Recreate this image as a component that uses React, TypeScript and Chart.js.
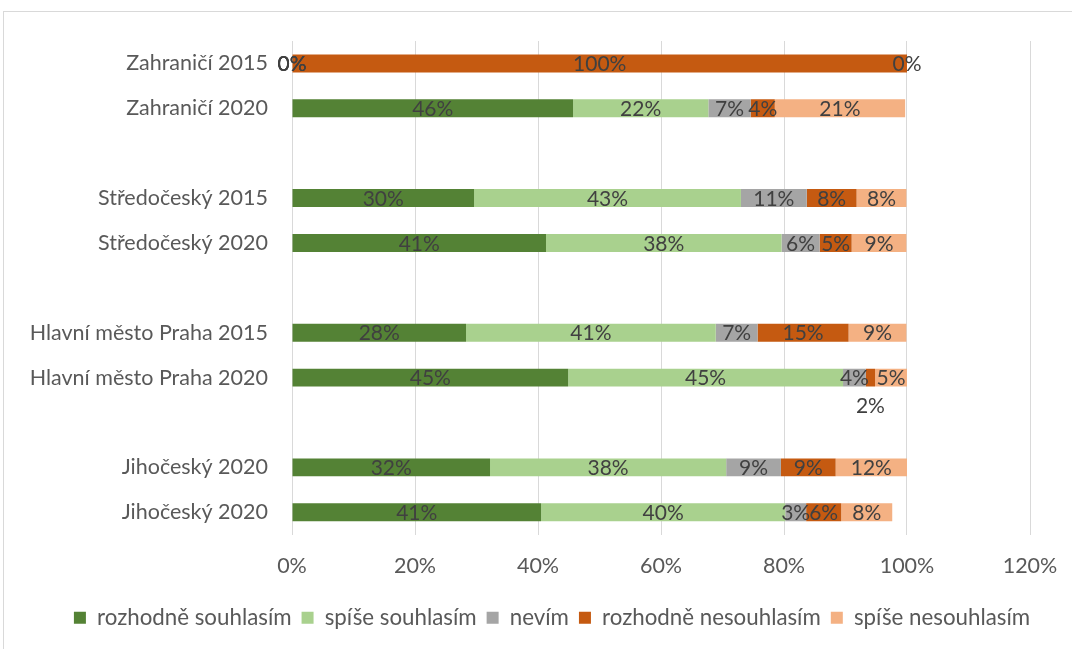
import React, { useEffect, useRef } from 'react';
import { Chart, registerables } from 'chart.js';

Chart.register(...registerables);

const categories = [
  'Zahraničí 2015',
  'Zahraničí 2020',
  '',
  'Středočeský 2015',
  'Středočeský 2020',
  '',
  'Hlavní město Praha 2015',
  'Hlavní město Praha 2020',
  '',
  'Jihočeský 2020',
  'Jihočeský 2020',
];

const seriesNames = [
  'rozhodně souhlasím',
  'spíše souhlasím',
  'nevím',
  'rozhodně nesouhlasím',
  'spíše nesouhlasím',
];

const rozhodneSouhlasim = [0, 0.457, null, 0.296, 0.413, null, 0.283, 0.449, null, 0.322, 0.405];
const spiseSouhlasim = [0, 0.22, null, 0.434, 0.383, null, 0.406, 0.447, null, 0.384, 0.397];
const nevim = [0, 0.069, null, 0.107, 0.062, null, 0.068, 0.037, null, 0.089, 0.034];
const rozhodneNesouhlasim = [1, 0.039, null, 0.081, 0.052, null, 0.148, 0.015, null, 0.089, 0.057];
const spiseNesouhlasim = [0, 0.212, null, 0.081, 0.089, null, 0.094, 0.052, null, 0.116, 0.083];

const seriesColors = ['#548235', '#A9D18E', '#A5A5A5', '#C55A11', '#F4B183'];

const xMin = 0;
const xMax = 1.2;
const xStep = 0.2;

const FONT = 'Lato, "Noto Sans", sans-serif';
const AXIS_FONT = 21.5;
const LABEL_FONT = 21;
const LEGEND_FONT = 22.3;

const valueLabelPlugin = {
  id: 'valueLabels',
  afterLayout(chart: any) {
    const lg = chart.legend;
    if (lg) {
      lg.left += 37;
      lg.right += 37;
    }
  },
  afterDatasetsDraw(chart: any) {
    const ctx = chart.ctx;
    ctx.save();
    ctx.font = `${LABEL_FONT}px ${FONT}`;
    ctx.fillStyle = '#404040';
    ctx.textAlign = 'center';
    ctx.textBaseline = 'middle';
    chart.data.datasets.forEach((ds: any, di: number) => {
      const meta = chart.getDatasetMeta(di);
      meta.data.forEach((el: any, i: number) => {
        const v = ds.data[i];
        if (v === null || v === undefined) return;
        const p = el.getProps(['x', 'y', 'base'], true);
        const cx = (p.x + p.base) / 2;
        let cy = p.y;
        if (v > 0 && v < 0.025) cy = p.y + 28;
        ctx.fillText(Math.round(v * 100) + '%', cx, cy + 1);
      });
    });
    ctx.restore();
  },
};

export default function App() {
  const canvasRef = useRef<HTMLCanvasElement | null>(null);

  useEffect(() => {
    document.body.style.margin = '0';
    const canvas = canvasRef.current;
    if (!canvas) return;
    const values = [rozhodneSouhlasim, spiseSouhlasim, nevim, rozhodneNesouhlasim, spiseNesouhlasim];
    const chart = new Chart(canvas, {
      type: 'bar',
      data: {
        labels: categories,
        datasets: seriesNames.map((name, k) => ({
          label: name,
          data: values[k] as any,
          backgroundColor: seriesColors[k],
          borderWidth: 0,
          barPercentage: 0.4,
          categoryPercentage: 1,
        })),
      },
      options: {
        indexAxis: 'y',
        animation: false,
        responsive: false,
        maintainAspectRatio: false,
        layout: { padding: { left: 0, right: 42, top: 41, bottom: 10 } },
        plugins: {
          legend: {
            position: 'bottom',
            labels: {
              boxWidth: 12,
              boxHeight: 12,
              color: '#595959',
              font: { family: FONT, size: LEGEND_FONT },
              padding: 10,
            },
          },
          tooltip: { enabled: false },
        },
        scales: {
          x: {
            stacked: true,
            min: xMin,
            max: xMax,
            ticks: {
              stepSize: xStep,
              color: '#595959',
              font: { family: FONT, size: AXIS_FONT },
              padding: 18,
              callback: (v: any) => Math.round(Number(v) * 100) + '%',
            },
            grid: { color: '#D9D9D9', drawTicks: false, lineWidth: 1 },
            border: { display: false },
            afterFit: (scale: any) => {
              scale.height = 62;
              scale.paddingRight = 0;
              scale.paddingLeft = 0;
            },
          },
          y: {
            stacked: true,
            ticks: {
              color: '#595959',
              font: { family: FONT, size: AXIS_FONT },
              padding: 24,
              autoSkip: false,
            },
            grid: { display: false, drawTicks: false },
            border: { display: false },
            afterFit: (scale: any) => {
              scale.width = 292;
            },
          },
        },
      },
      plugins: [valueLabelPlugin],
    });
    return () => chart.destroy();
  }, []);

  return (
    <div style={{ position: 'relative', width: 1072, height: 649, background: '#fff', overflow: 'hidden' }}>
      <div
        style={{
          position: 'absolute',
          left: 3,
          top: 11,
          width: 1100,
          height: 700,
          border: '1px solid #D9D9D9',
          boxSizing: 'border-box',
        }}
      />
      <canvas ref={canvasRef} width={1072} height={649} style={{ position: 'absolute', left: 0, top: 0 }} />
    </div>
  );
}
